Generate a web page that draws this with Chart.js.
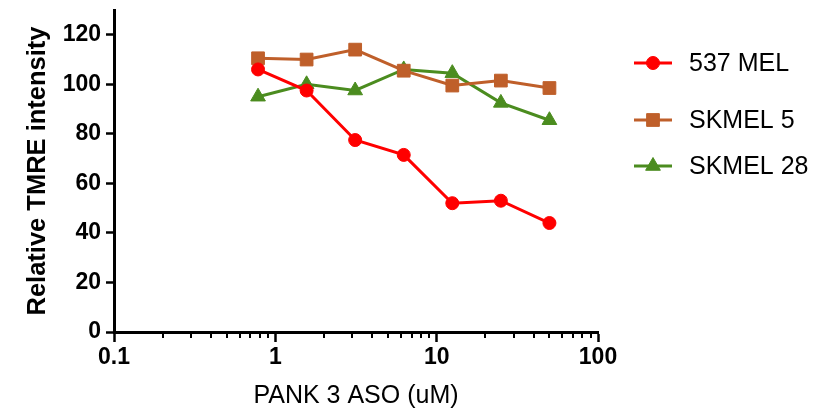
<!DOCTYPE html>
<html>
<head>
<meta charset="utf-8">
<script src="https://cdn.jsdelivr.net/npm/chart.js@4.4.1/dist/chart.umd.min.js"></script>
<style>
  html, body { margin: 0; padding: 0; background: #ffffff; }
  #wrap { width: 817px; height: 412px; position: relative; }
</style>
</head>
<body>
<div id="wrap"><canvas id="tmre-chart"></canvas></div>
<script>
// PANK 3 ASO 농도 (uM)
const doses = [0.78125, 1.5625, 3.125, 6.25, 12.5, 25, 50];

// 세포주별 상대 TMRE 강도
const mel537 = [106, 97.5, 77.5, 71.5, 52, 53, 44];
const skmel5 = [110.5, 110, 114, 105.5, 99.5, 101.5, 98.5];
const skmel28 = [95, 100, 97.5, 106, 104.5, 92.5, 85.5];

const seriesNames = ['537 MEL', 'SKMEL 5', 'SKMEL 28'];

// 축 눈금
const xTicks = [0.1, 1, 10, 100];
const yTicks = [0, 20, 40, 60, 80, 100, 120];

const FONT = "'Liberation Sans', Arial, sans-serif";

const styles = [
    { color: '#ff0000', pointStyle: 'circle', radius: 6.5 },
    { color: '#bf5f2a', pointStyle: 'rect', radius: 9 },
    { color: '#4b8c1f', pointStyle: 'triangle', radius: 8.5 }
];

function makeDataset(label, values, style) {
    return {
        label: label,
        data: doses.map((d, i) => ({ x: d, y: values[i] })),
        borderColor: style.color,
        backgroundColor: style.color,
        borderWidth: 3,
        pointStyle: style.pointStyle,
        pointRadius: style.radius,
        pointHoverRadius: style.radius,
        pointBackgroundColor: style.color,
        pointBorderColor: style.color,
        pointBorderWidth: 1,
        tension: 0,
        fill: false
    };
}

// 로그축 보조 눈금 (2~9) 그리기
const minorTicks = {
    id: 'minorTicks',
    afterDraw(chart) {
        const xs = chart.scales.x;
        const ctx = chart.ctx;
        ctx.save();
        ctx.strokeStyle = '#000000';
        ctx.lineWidth = 2;
        for (let p = -1; p < 2; p++) {
            for (let m = 2; m <= 9; m++) {
                const px = Math.round(xs.getPixelForValue(m * Math.pow(10, p)));
                ctx.beginPath();
                ctx.moveTo(px, xs.top);
                ctx.lineTo(px, xs.top + 6);
                ctx.stroke();
            }
        }
        ctx.restore();
    }
};

// 오른쪽 범례 (간격이 고르지 않아 직접 그림)
const sideLegend = {
    id: 'sideLegend',
    afterDraw(chart) {
        const ctx = chart.ctx;
        const rows = [63, 120, 166];
        ctx.save();
        chart.data.datasets.forEach((ds, i) => {
            const y = rows[i];
            const st = styles[i];
            ctx.strokeStyle = st.color;
            ctx.fillStyle = st.color;
            ctx.lineWidth = 3;
            ctx.beginPath();
            ctx.moveTo(634, y);
            ctx.lineTo(672, y);
            ctx.stroke();
            ctx.lineWidth = 1;
            Chart.helpers.drawPoint(ctx, { pointStyle: st.pointStyle, radius: st.radius, rotation: 0, borderWidth: 1 }, 653, y);
            ctx.fillStyle = '#000000';
            ctx.font = '25px ' + FONT;
            ctx.textBaseline = 'middle';
            ctx.textAlign = 'left';
            ctx.fillText(ds.label, 689, y + 1);
        });
        ctx.restore();
    }
};

const ctx = document.getElementById('tmre-chart');
new Chart(ctx, {
    type: 'line',
    data: {
        datasets: [
            makeDataset(seriesNames[0], mel537, styles[0]),
            makeDataset(seriesNames[1], skmel5, styles[1]),
            makeDataset(seriesNames[2], skmel28, styles[2])
        ]
    },
    options: {
        responsive: true,
        maintainAspectRatio: false,
        animation: false,
        layout: { padding: { left: 0, right: 219, top: 10, bottom: 0 } },
        plugins: {
            legend: { display: false },
            tooltip: { enabled: false }
        },
        scales: {
            x: {
                type: 'logarithmic',
                min: 0.1,
                max: 100,
                afterFit: s => { s.height = 80; s.paddingLeft = 0; s.paddingRight = 0; },
                afterBuildTicks: s => { s.ticks = xTicks.map(v => ({ value: v })); },
                border: { display: true, color: '#000000', width: 3 },
                grid: {
                    drawOnChartArea: false,
                    drawTicks: true,
                    tickLength: 10,
                    tickWidth: 2.5,
                    tickColor: '#000000'
                },
                ticks: {
                    autoSkip: false,
                    maxRotation: 0,
                    padding: 2,
                    color: '#000000',
                    font: { family: FONT, size: 23, weight: 'bold' },
                    callback: v => String(v)
                },
                title: {
                    display: true,
                    text: 'PANK 3 ASO (uM)',
                    color: '#000000',
                    font: { family: FONT, size: 25 },
                    padding: { top: 0, bottom: 1 }
                }
            },
            y: {
                min: 0,
                max: 130,
                afterFit: s => { s.width = 114; s.paddingTop = 0; s.paddingBottom = 0; },
                afterBuildTicks: s => { s.ticks = yTicks.map(v => ({ value: v })); },
                border: { display: true, color: '#000000', width: 3 },
                grid: {
                    drawOnChartArea: false,
                    drawTicks: true,
                    tickLength: 8,
                    tickWidth: 2.5,
                    tickColor: '#000000'
                },
                ticks: {
                    padding: 5,
                    color: '#000000',
                    font: { family: FONT, size: 23, weight: 'bold' }
                },
                title: {
                    display: true,
                    text: 'Relative TMRE intensity',
                    color: '#000000',
                    font: { family: FONT, size: 25.5, weight: 'bold' },
                    padding: { top: 23, bottom: 0 }
                }
            }
        }
    },
    plugins: [minorTicks, sideLegend]
});
</script>
</body>
</html>
